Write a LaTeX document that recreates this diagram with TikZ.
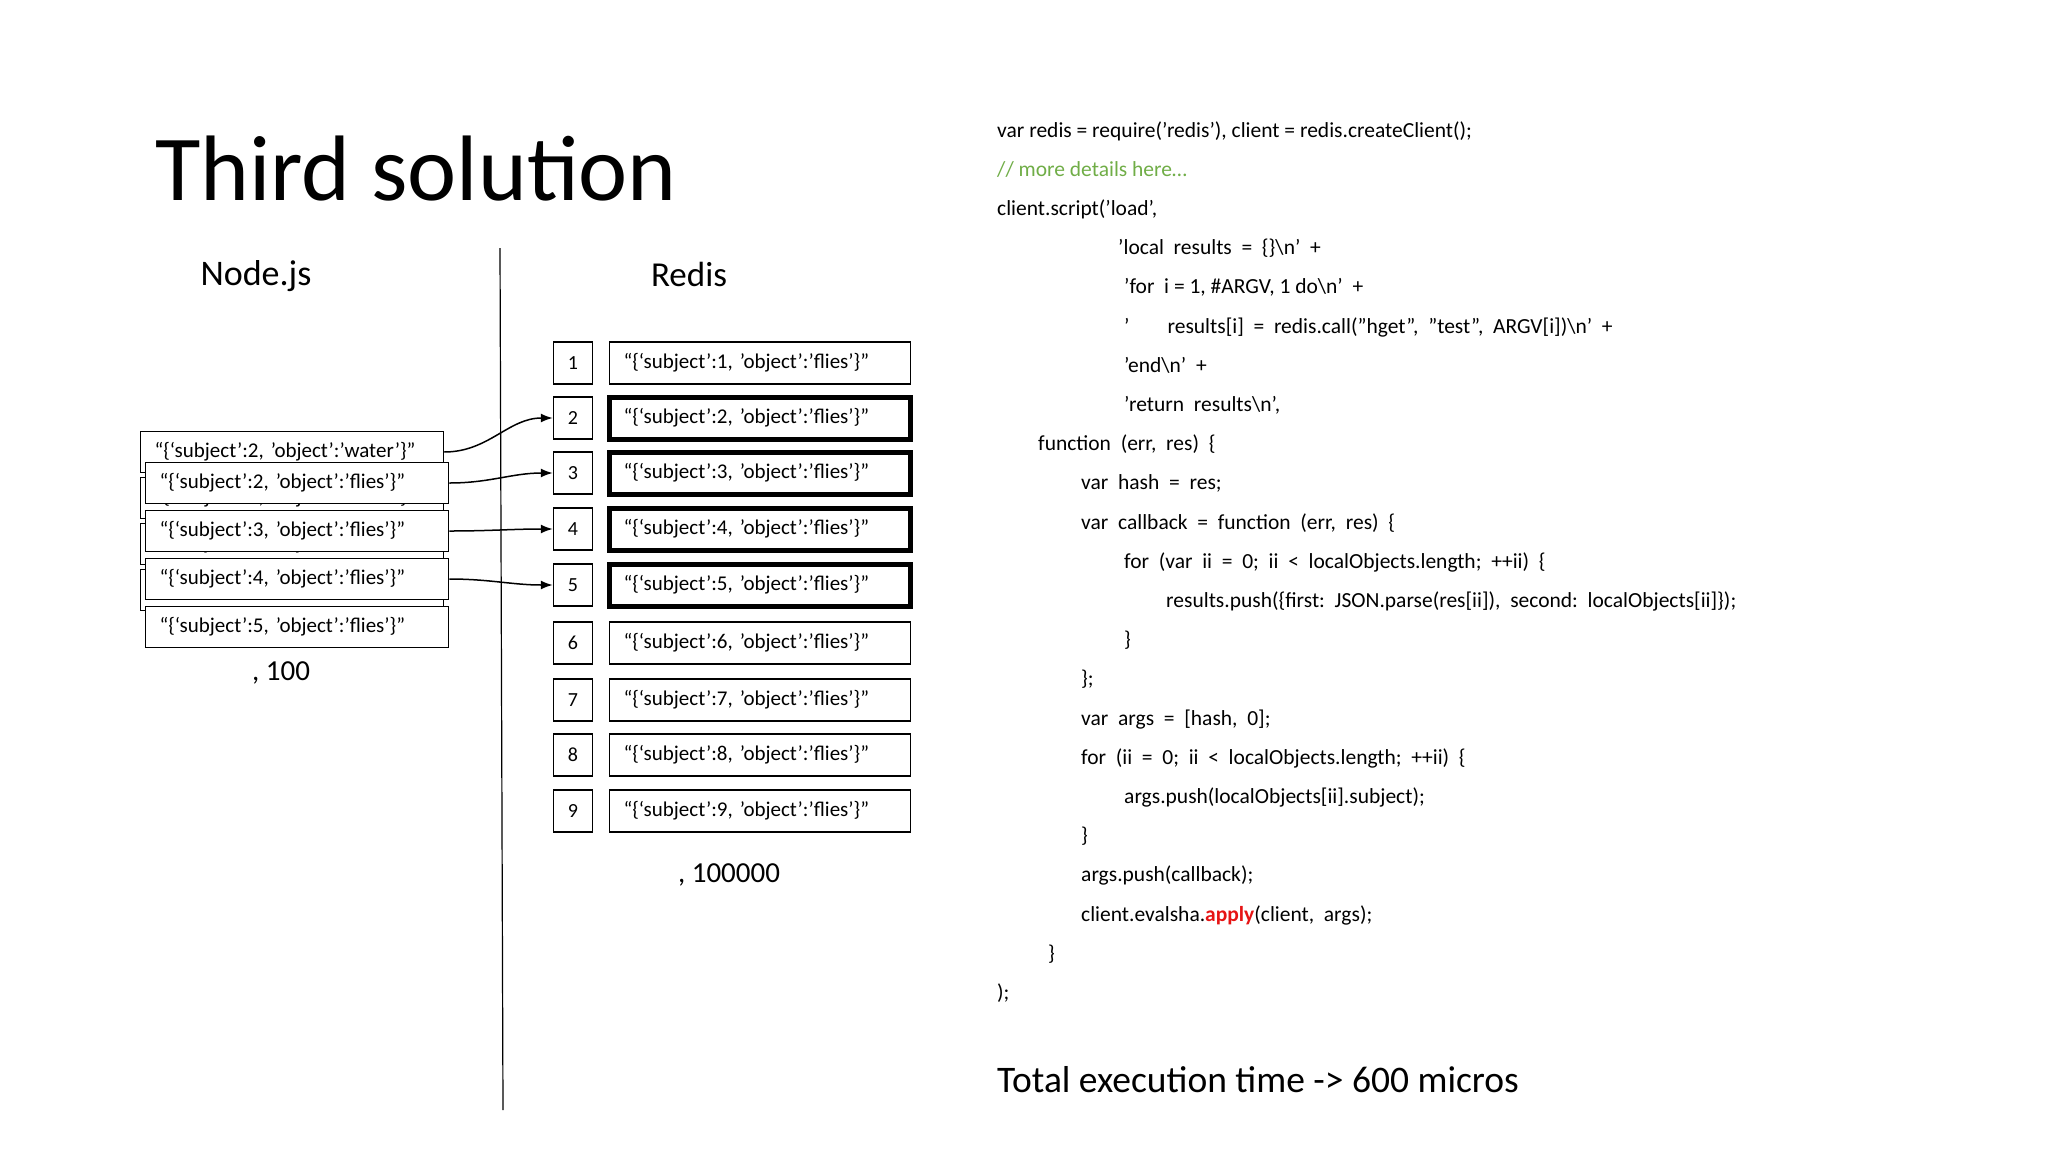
\documentclass[tikz,border=0pt]{standalone}
\usepackage{fontspec}
\setmainfont{Carlito}
\usetikzlibrary{arrows.meta}
\definecolor{cmt}{RGB}{112,173,71}
\definecolor{hot}{RGB}{230,20,20}

\begin{document}
\begin{tikzpicture}[
		x=1pt,y=-1pt,
		num/.style={draw,line width=1.5pt,minimum width=39pt,minimum height=42pt,inner sep=0pt,font=\fontsize{20}{24}\selectfont},
		val/.style={draw,fill=white,line width=1.5pt,minimum width=301pt,minimum height=42pt,inner ysep=0pt,inner xsep=14pt,text width=273pt,align=left,font=\fontsize{21}{24}\selectfont},
		hit/.style={line width=5pt},
		obj/.style={draw,fill=white,line width=1.5pt,minimum width=303pt,minimum height=41pt,inner ysep=0pt,inner xsep=14pt,text width=275pt,align=left,font=\fontsize{21}{24}\selectfont},
		code/.style={anchor=base west,inner sep=0pt,font=\fontsize{21.5}{24}\selectfont},
		link/.style={-{Latex[length=12pt,width=9pt]},line width=1.5pt}
	]
	\useasboundingbox (0,0) rectangle (2048,1152);

	%titles
	\node[anchor=base west,inner sep=0pt,font=\fontsize{93}{100}\selectfont] (title) at (155,200) {Third solution};
	\node[font=\fontsize{36}{40}\selectfont] (nodejs) at (256,276) {Node.js};
	\node[font=\fontsize{35}{40}\selectfont] (redis) at (689,274) {Redis};
	\coordinate (top) at (500,248);
	\coordinate (bot) at (503,1110);
	\draw[line width=1.2pt] (top) -- (bot);

	%redis keys
	\foreach \i/\y in {1/363,2/418,3/473,4/529,5/585,6/643,7/700,8/755,9/811}
	{
		\node[num] (n\i) at (573,\y) {\i};
		\node[val] (k\i) at (760,\y) {“\{‘subject’:\i, ’object’:’flies’\}”};
	}
	\foreach \i in {2,...,5}
		\node[val,hit] at (k\i) {“\{‘subject’:\i, ’object’:’flies’\}”};
	\node[font=\fontsize{29}{32}\selectfont] (big) at (729,875) {, 100000};

	%local objects
	\foreach \i/\y in {2/452,3/498,4/544,5/590}
		\node[obj] (w\i) at (292,\y) {“\{‘subject’:\i, ’object’:’water’\}”};
	\foreach \i/\y in {2/483,3/531,4/579,5/627}
		\node[obj] (f\i) at (297,\y) {“\{‘subject’:\i, ’object’:’flies’\}”};
	\node[font=\fontsize{29}{32}\selectfont] (small) at (281,673) {, 100};

	%arrows
	\draw[link] (w2.east) to[out=0,in=180] (n2.west);
	\draw[link] (f2.east) to[out=0,in=180] (n3.west);
	\draw[link] (f3.east) to[out=0,in=180] (n4.west);
	\draw[link] (f4.east) to[out=0,in=180] (n5.west);

	%lua script
	\foreach \l/\x/\t in {
		0/997/{var redis = require('redis'), client = redis.createClient();},
		1/997/{\textcolor{cmt}{// more details here…}},
		2/997/{client.script('load',},
		3/1118/{'local\ \ results\ \ =\ \ \{\}\textbackslash n'\ \ +},
		4/1124/{'for\ \ i = 1, \#ARGV, 1 do\textbackslash n'\ \ +},
		5/1124/{'\hspace{38pt}results[i]\ \ =\ \ redis.call("hget",\ \ "test",\ \ ARGV[i])\textbackslash n'\ \ +},
		6/1124/{'end\textbackslash n'\ \ +},
		7/1124/{'return\ \ results\textbackslash n',},
		8/1038/{function\ \ (err,\ \ res)\ \ \{},
		9/1081/{var\ \ hash\ \ =\ \ res;},
		10/1081/{var\ \ callback\ \ =\ \ function\ \ (err,\ \ res)\ \ \{},
		11/1124/{for\ \ (var\ \ ii\ \ =\ \ 0;\ \ ii\ \ <\ \ localObjects.length;\ \ ++ii)\ \ \{},
		12/1166/{results.push(\{first:\ \ JSON.parse(res[ii]),\ \ second:\ \ localObjects[ii]\});},
		13/1124/{\}},
		14/1081/{\};},
		15/1081/{var\ \ args\ \ =\ \ [hash,\ \ 0];},
		16/1081/{for\ \ (ii\ \ =\ \ 0;\ \ ii\ \ <\ \ localObjects.length;\ \ ++ii)\ \ \{},
		17/1124/{args.push(localObjects[ii].subject);},
		18/1081/{\}},
		19/1081/{args.push(callback);},
		20/1081/{client.evalsha.\textcolor{hot}{\textbf{apply}}(client,\ \ args);},
		21/1048/{\}},
		22/997/{);}}
		\node[code] (c\l) at (\x,137+39.2*\l) {\t};
	\node[anchor=base west,inner sep=0pt,font=\fontsize{37.5}{42}\selectfont] (total) at (997,1092) {Total execution time -> 600 micros};
\end{tikzpicture}
\end{document}
